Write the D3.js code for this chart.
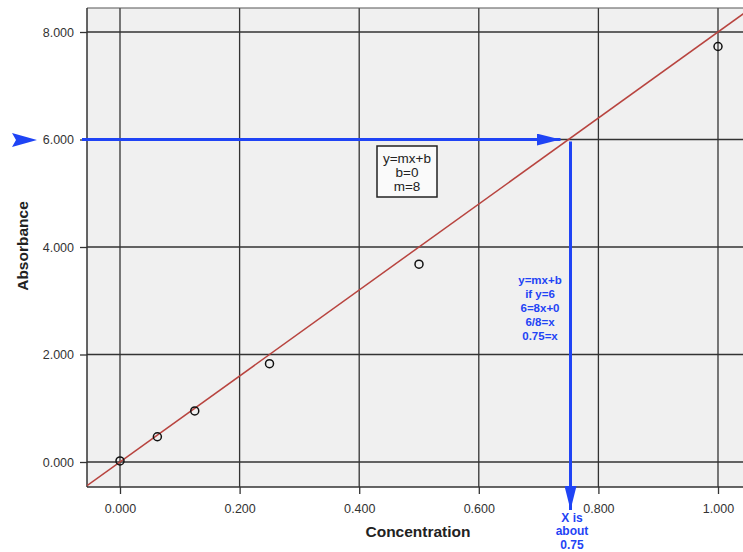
<!DOCTYPE html>
<html>
<head>
<meta charset="utf-8">
<script src="https://cdn.jsdelivr.net/npm/d3@7"></script>
<style>
  html, body { margin: 0; padding: 0; background: #fff; }
  svg { display: block; font-family: "Liberation Sans", Arial, sans-serif; }
</style>
</head>
<body>
<svg id="chart" width="743" height="552"></svg>
<script>
// Calibration measurements
const concentration = [0.000, 0.0625, 0.125, 0.250, 0.500, 1.000];
const absorbance    = [0.02, 0.47, 0.95, 1.83, 3.68, 7.73];

// Fitted line y = m x + b
const slope = 8;
const intercept = 0;

// Axis ticks
const xTicks = [0.0, 0.2, 0.4, 0.6, 0.8, 1.0];
const yTicks = [0, 2, 4, 6, 8];

// Reading target and result
const targetAbsorbance = 6;
const solvedConcentration = 0.75;

const boxLines = ["y=mx+b", "b=0", "m=8"];
const workLines = ["y=mx+b", "if y=6", "6=8x+0", "6/8=x", "0.75=x"];
const resultLines = ["X is", "about", "0.75"];

const svg = d3.select("#chart");
const plot = { left: 87, top: 8, right: 746, bottom: 487 };

const x = d3.scaleLinear().domain([0, 1]).range([120, 718]);
const y = d3.scaleLinear().domain([0, 8]).range([462, 32]);

const blue = "#1f44f5";
const gridColor = "#333";

// Plot background
svg.append("rect")
  .attr("x", plot.left).attr("y", plot.top)
  .attr("width", plot.right - plot.left).attr("height", plot.bottom - plot.top)
  .attr("fill", "#f0f0f0");

// Grid lines
svg.append("g").selectAll("line").data(xTicks).join("line")
  .attr("x1", d => x(d)).attr("x2", d => x(d))
  .attr("y1", plot.top).attr("y2", plot.bottom)
  .attr("stroke", gridColor).attr("stroke-width", 1.3);
svg.append("g").selectAll("line").data(yTicks).join("line")
  .attr("x1", plot.left).attr("x2", plot.right)
  .attr("y1", d => y(d)).attr("y2", d => y(d))
  .attr("stroke", gridColor).attr("stroke-width", 1.3);

// Frame
svg.append("line").attr("x1", plot.left).attr("x2", plot.right)
  .attr("y1", plot.top).attr("y2", plot.top)
  .attr("stroke", "#555").attr("stroke-width", 1.2);
svg.append("line").attr("x1", plot.left).attr("x2", plot.left)
  .attr("y1", plot.top).attr("y2", plot.bottom)
  .attr("stroke", "#333").attr("stroke-width", 1.5);
svg.append("line").attr("x1", plot.left).attr("x2", plot.right)
  .attr("y1", plot.bottom).attr("y2", plot.bottom)
  .attr("stroke", "#333").attr("stroke-width", 1.5);

// Axes
const xAxis = d3.axisBottom(x).tickValues(xTicks).tickFormat(d3.format(".3f"))
  .tickSize(7).tickPadding(10).tickSizeOuter(0);
const gx = svg.append("g").attr("transform", `translate(0,${plot.bottom})`).call(xAxis);
gx.select(".domain").remove();
gx.selectAll(".tick line").attr("stroke", "#333").attr("stroke-width", 1.3);
gx.selectAll(".tick text").attr("font-size", 12.5).attr("fill", "#333")
  .attr("font-family", "Liberation Sans, Arial, sans-serif");

const yAxis = d3.axisLeft(y).tickValues(yTicks).tickFormat(d3.format(".3f"))
  .tickSize(7).tickPadding(6).tickSizeOuter(0);
const gy = svg.append("g").attr("transform", `translate(${plot.left},0)`).call(yAxis);
gy.select(".domain").remove();
gy.selectAll(".tick line").attr("stroke", "#333").attr("stroke-width", 1.3);
gy.selectAll(".tick text").attr("font-size", 12.5).attr("fill", "#333")
  .attr("font-family", "Liberation Sans, Arial, sans-serif");

// Axis titles
svg.append("text").attr("x", 418).attr("y", 537).attr("text-anchor", "middle")
  .attr("font-size", 15.5).attr("font-weight", "bold").attr("fill", "#222")
  .text("Concentration");
svg.append("text").attr("transform", "translate(28,246) rotate(-90)")
  .attr("text-anchor", "middle")
  .attr("font-size", 15.5).attr("font-weight", "bold").attr("fill", "#222")
  .text("Absorbance");

// Clip for fit line
svg.append("clipPath").attr("id", "plotClip").append("rect")
  .attr("x", plot.left).attr("y", plot.top)
  .attr("width", plot.right - plot.left).attr("height", plot.bottom - plot.top);

const xDomainFull = [x.invert(plot.left), x.invert(plot.right)];
svg.append("line").attr("clip-path", "url(#plotClip)")
  .attr("x1", x(xDomainFull[0])).attr("y1", y(slope * xDomainFull[0] + intercept))
  .attr("x2", x(xDomainFull[1])).attr("y2", y(slope * xDomainFull[1] + intercept))
  .attr("stroke", "#b8443f").attr("stroke-width", 1.5);

// Data points
svg.append("g").selectAll("circle").data(concentration).join("circle")
  .attr("cx", d => x(d)).attr("cy", (d, i) => y(absorbance[i]))
  .attr("r", 4).attr("fill", "none").attr("stroke", "#111").attr("stroke-width", 1.5);

// Arrow markers
const defs = svg.append("defs");
defs.append("marker").attr("id", "arrow").attr("viewBox", "0 0 24 12")
  .attr("refX", 24).attr("refY", 6).attr("markerWidth", 24).attr("markerHeight", 12)
  .attr("markerUnits", "userSpaceOnUse").attr("orient", "auto")
  .append("path").attr("d", "M0,0 L24,6 L0,12 Z").attr("fill", blue);

// Target arrow outside the axis
svg.append("path").attr("d", "M12,133 L37,140 L12,147 L16,140 Z").attr("fill", blue);

// Horizontal reading line at y = 6
const xCross = solvedConcentration;
svg.append("line")
  .attr("x1", 82).attr("x2", x(xCross) - 8)
  .attr("y1", y(targetAbsorbance)).attr("y2", y(targetAbsorbance))
  .attr("stroke", blue).attr("stroke-width", 3).attr("marker-end", "url(#arrow)");

// Vertical line down to the axis
svg.append("line")
  .attr("x1", x(xCross) + 2).attr("x2", x(xCross) + 2)
  .attr("y1", y(targetAbsorbance) + 2).attr("y2", 510)
  .attr("stroke", blue).attr("stroke-width", 3).attr("marker-end", "url(#arrow)");

// Equation box
svg.append("rect").attr("x", 377).attr("y", 146).attr("width", 60).attr("height", 51)
  .attr("fill", "#fafafa").attr("stroke", "#222").attr("stroke-width", 1.5);
svg.append("g").selectAll("text").data(boxLines).join("text")
  .attr("x", 407).attr("y", (d, i) => 163 + i * 14)
  .attr("text-anchor", "middle").attr("font-size", 13.5).attr("fill", "#222")
  .text(d => d);

// Worked solution
svg.append("g").selectAll("text").data(workLines).join("text")
  .attr("x", 540).attr("y", (d, i) => 284 + i * 14)
  .attr("text-anchor", "middle").attr("font-size", 11.5).attr("font-weight", "bold")
  .attr("fill", blue).text(d => d);

// Result under the axis
svg.append("g").selectAll("text").data(resultLines).join("text")
  .attr("x", 572).attr("y", (d, i) => 522 + i * 13.3)
  .attr("text-anchor", "middle").attr("font-size", 12).attr("font-weight", "bold")
  .attr("fill", blue).text(d => d);
</script>
</body>
</html>
